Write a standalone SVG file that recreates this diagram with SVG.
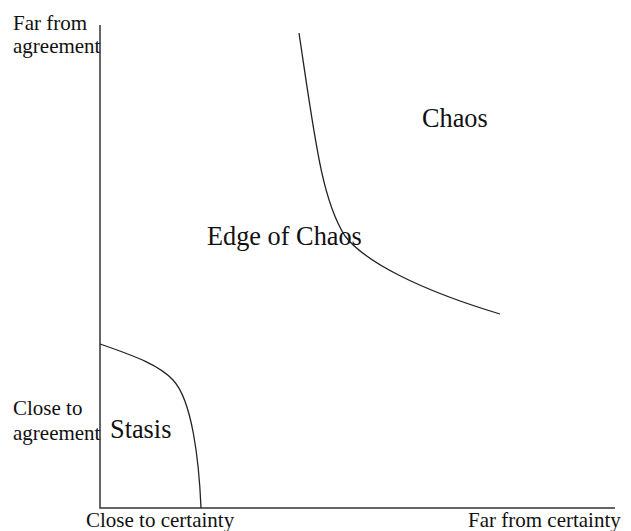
<svg xmlns="http://www.w3.org/2000/svg" width="631" height="531" viewBox="0 0 631 531">
<style>
.ax{fill:none;stroke:#333;stroke-width:1.5}
.cv{fill:none;stroke:#222;stroke-width:1.3}
.sm{font-family:"Liberation Serif","Times New Roman",serif;font-size:21px;fill:#111}
.lg{font-family:"Liberation Serif","Times New Roman",serif;font-size:26.3px;fill:#111}
</style>
<rect width="631" height="531" fill="#fff"/>
<g id="connectors">
<path class="ax" d="M100,25 V508 H615"/>
<path class="cv" d="M299,33 C315,140 322,200 345,236 C365,262 420,290 500,314"/>
<path class="cv" d="M100,344 C138,357 160,366 173,380 C192,400 199,460 201,508"/>
</g>
<g id="y-top"><text class="sm" x="13" y="30">Far from</text><text class="sm" x="13" y="53">agreement</text></g>
<g id="y-bottom"><text class="sm" x="13" y="415">Close to</text><text class="sm" x="13" y="440">agreement</text></g>
<g id="x-left"><text class="sm" x="86" y="527">Close to certainty</text></g>
<g id="x-right"><text class="sm" x="468" y="527">Far from certainty</text></g>
<g id="chaos"><text class="lg" x="422" y="127">Chaos</text></g>
<g id="edge"><text class="lg" x="207" y="245">Edge of Chaos</text></g>
<g id="stasis"><text class="lg" x="110" y="438">Stasis</text></g>
</svg>
